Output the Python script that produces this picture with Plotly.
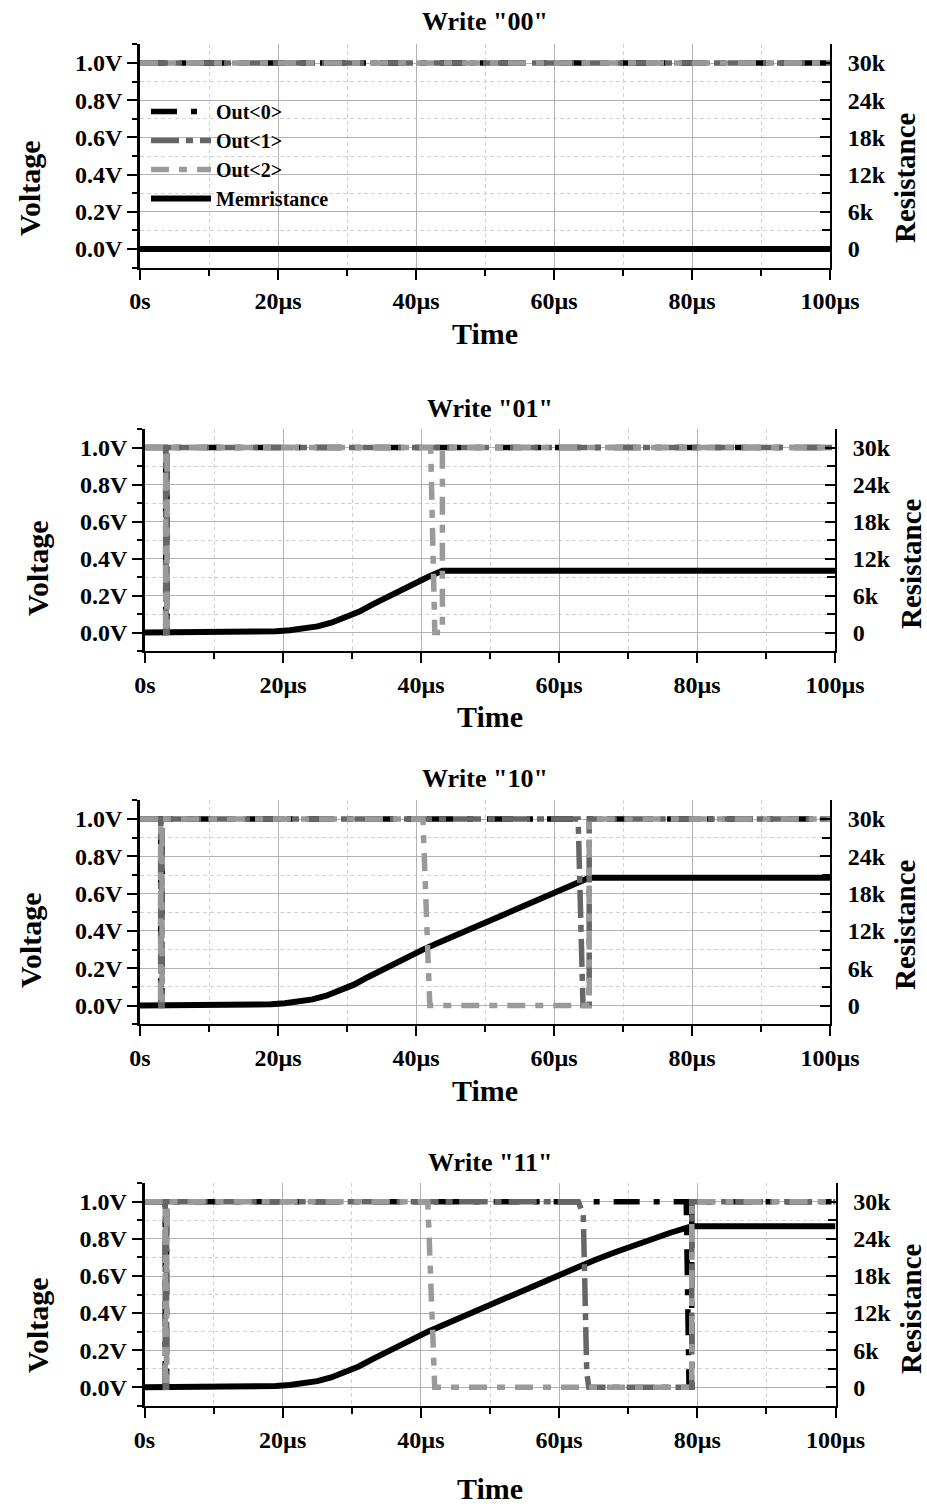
import plotly.graph_objects as go

FONT = "Liberation Serif"
W, H = 927, 1506

TITLES = ['Write "00"', 'Write "01"', 'Write "10"', 'Write "11"']
SERIES_NAMES = ["Out<0>", "Out<1>", "Out<2>", "Memristance"]
X_TICK_VALS = [0, 20, 40, 60, 80, 100]
X_TICK_TEXT = ["0s", "20µs", "40µs", "60µs", "80µs", "100µs"]
X_MINOR_VALS = [10, 30, 50, 70, 90]
R_TICK_VALS = [0, 6000, 12000, 18000, 24000, 30000]
R_TICK_TEXT = ["0", "6k", "12k", "18k", "24k", "30k"]

# ---------------- Write "00" ----------------
T_OUT0_00 = [0, 100]
V_OUT0_00 = [1, 1]
T_OUT1_00 = [0, 100]
V_OUT1_00 = [1, 1]
T_OUT2_00 = [0, 100]
V_OUT2_00 = [1, 1]
T_MEM_00 = [0, 100]
R_MEM_00 = [0, 0]

# ---------------- Write "01" ----------------
T_OUT0_01 = [0, 3.0, 3.0, 3.2, 3.2, 100]
V_OUT0_01 = [1, 1, 0, 0, 1, 1]
T_OUT1_01 = [0, 3.0, 3.0, 3.2, 3.2, 100]
V_OUT1_01 = [1, 1, 0, 0, 1, 1]
T_OUT2_01 = [0, 3.0, 3.0, 3.2, 3.2, 41.4, 42.0, 43.1, 43.1, 100]
V_OUT2_01 = [1, 1, 0, 0, 1, 1, 0, 0, 1, 1]
T_MEM_01 = [0, 12, 15, 17, 19, 21, 23, 25, 27, 29, 31, 33, 35, 37, 39, 41, 43.1, 100]
R_MEM_01 = [0, 30, 60, 120, 210, 360, 600, 990, 1590, 2400, 3360, 4560, 5700, 6840,
            7950, 9000, 10000, 10000]

# ---------------- Write "10" ----------------
T_OUT0_10 = [0, 3.0, 3.0, 3.2, 3.2, 100]
V_OUT0_10 = [1, 1, 0, 0, 1, 1]
T_OUT1_10 = [0, 3.0, 3.0, 3.2, 3.2, 63.5, 64.2, 65.1, 65.1, 100]
V_OUT1_10 = [1, 1, 0, 0, 1, 1, 0, 0, 1, 1]
T_OUT2_10 = [0, 3.0, 3.0, 3.2, 3.2, 41.0, 42.0, 65.1, 65.1, 100]
V_OUT2_10 = [1, 1, 0, 0, 1, 1, 0, 0, 1, 1]
T_MEM_10 = [0, 12, 15, 17, 19, 21, 23, 25, 27, 29, 31, 33, 35, 37, 39, 41, 43, 45, 47,
            50, 53, 56, 60, 63, 65.1, 100]
R_MEM_10 = [0, 30, 60, 120, 210, 360, 600, 990, 1590, 2400, 3360, 4560, 5700, 6840,
            7950, 9000, 9970, 10950, 11940, 13420, 14880, 16320, 18240, 19620, 20560,
            20560]

# ---------------- Write "11" ----------------
T_OUT0_11 = [0, 3.0, 3.0, 3.2, 3.2, 78.4, 78.8, 79.2, 79.2, 100]
V_OUT0_11 = [1, 1, 0, 0, 1, 1, 0, 0, 1, 1]
T_OUT1_11 = [0, 3.0, 3.0, 3.2, 3.2, 62.8, 63.5, 64.0, 64.3, 79.2, 79.2, 100]
V_OUT1_11 = [1, 1, 0, 0, 1, 1, 0.93, 0.08, 0, 0, 1, 1]
T_OUT2_11 = [0, 3.0, 3.0, 3.2, 3.2, 41.0, 42.0, 79.2, 79.2, 100]
V_OUT2_11 = [1, 1, 0, 0, 1, 1, 0, 0, 1, 1]
T_MEM_11 = [0, 12, 15, 17, 19, 21, 23, 25, 27, 29, 31, 33, 35, 37, 39, 41, 43, 45, 47,
            50, 53, 56, 60, 63, 65, 68, 70, 73, 76, 79.2, 100]
R_MEM_11 = [0, 30, 60, 120, 210, 360, 600, 990, 1590, 2400, 3360, 4560, 5700, 6840,
            7950, 9000, 9970, 10950, 11940, 13420, 14880, 16320, 18240, 19620, 20520,
            21800, 22620, 23820, 24960, 26050, 26050]

PANEL_DATA = [
    ((T_OUT0_00, V_OUT0_00), (T_OUT1_00, V_OUT1_00), (T_OUT2_00, V_OUT2_00), (T_MEM_00, R_MEM_00)),
    ((T_OUT0_01, V_OUT0_01), (T_OUT1_01, V_OUT1_01), (T_OUT2_01, V_OUT2_01), (T_MEM_01, R_MEM_01)),
    ((T_OUT0_10, V_OUT0_10), (T_OUT1_10, V_OUT1_10), (T_OUT2_10, V_OUT2_10), (T_MEM_10, R_MEM_10)),
    ((T_OUT0_11, V_OUT0_11), (T_OUT1_11, V_OUT1_11), (T_OUT2_11, V_OUT2_11), (T_MEM_11, R_MEM_11)),
]

# styles
OUT_COLORS = ["#000000", "#666666", "#9a9a9a"]
OUT_DASH = ["26px,14px,6px,14px", "28px,7px,7px,7px", "18px,10px,8px,10px"]
OUT_WIDTH = 5.5
MEM_COLOR = "#000000"
MEM_WIDTH = 6

# panel geometry in pixels: left, right, top, bottom
GEO = [
    (140.0, 830.0, 44.4, 267.6),
    (145.0, 835.0, 429.0, 651.0),
    (140.0, 830.0, 800.4, 1024.2),
    (144.5, 835.5, 1183.3, 1405.8),
]
TITLE_Y = [22, 408, 778, 1162]
TIME_Y = [333, 716, 1090, 1488]
VOLT_POS = [(29, 188), (37, 568), (30, 940), (37, 1325)]
RES_POS = [(905, 178), (911, 564), (905, 925), (911, 1309)]


def px(x):
    return x / W


def py(y):
    return 1 - y / H


def sid(prefix, n):
    return prefix if n == 1 else f"{prefix}{n}"


bold = dict(family=FONT, weight="bold", color="black")
tick_font = dict(family=FONT, size=24, weight="bold", color="black")
MAJOR_GRID = "#b2b2b2"
MINOR_GRID = "#d2d2d2"

fig = go.Figure()
layout = {}
annotations = []

for i in range(1, 5):
    left, right, top, bot = GEO[i - 1]
    xdom = [px(left), px(right)]
    ydom = [py(bot), py(top)]
    xm, xt = i, i + 4          # main x, top x
    yr, yv = i, i + 4          # resistance (base), voltage (overlay)
    (o0, o1, o2, mem) = PANEL_DATA[i - 1]
    show = (i == 1)

    # memristance on the resistance axis (drawn underneath)
    fig.add_trace(go.Scatter(
        x=mem[0], y=mem[1], mode="lines", name=SERIES_NAMES[3],
        line=dict(color=MEM_COLOR, width=MEM_WIDTH),
        xaxis=sid("x", xm), yaxis=sid("y", yr),
        showlegend=show, legendrank=4))
    for k, (t, v) in enumerate((o0, o1, o2)):
        fig.add_trace(go.Scatter(
            x=t, y=v, mode="lines", name=SERIES_NAMES[k],
            line=dict(color=OUT_COLORS[k], width=OUT_WIDTH, dash=OUT_DASH[k]),
            xaxis=sid("x", xm), yaxis=sid("y", yv),
            showlegend=show, legendrank=k + 1))

    layout[sid("xaxis", xm)] = dict(
        domain=xdom, anchor=sid("y", yr), range=[0, 100], side="bottom",
        automargin=False,
        showline=True, linewidth=2, linecolor="black", mirror=False,
        ticks="outside", ticklen=10, tickwidth=2, tickcolor="black",
        tickmode="array", tickvals=X_TICK_VALS, ticktext=X_TICK_TEXT,
        tickfont=tick_font, ticklabelstandoff=1,
        showgrid=True, gridcolor=MAJOR_GRID, gridwidth=1, zeroline=False,
        minor=dict(tickmode="array", tickvals=X_MINOR_VALS, ticks="outside", ticklen=6,
                   tickwidth=2, tickcolor="black", showgrid=True,
                   gridcolor=MINOR_GRID, griddash="4px,3px", gridwidth=1),
        fixedrange=True)
    layout[sid("xaxis", xt)] = dict(
        overlaying=sid("x", xm), anchor=sid("y", yr), range=[0, 100], side="top",
        automargin=False,
        showline=True, linewidth=2, linecolor="black",
        ticks="inside", ticklen=10, tickwidth=2, tickcolor="black",
        tickmode="array", tickvals=X_TICK_VALS, showticklabels=False,
        showgrid=False, zeroline=False,
        minor=dict(tickmode="array", tickvals=X_MINOR_VALS, ticks="inside", ticklen=6,
                   tickwidth=2, tickcolor="black", showgrid=False),
        fixedrange=True)
    layout[sid("yaxis", yr)] = dict(
        domain=ydom, anchor=sid("x", xm), side="right", range=[-3000, 33000],
        automargin=False,
        showline=True, linewidth=2, linecolor="black",
        ticks="inside", ticklen=10, tickwidth=2, tickcolor="black",
        tickmode="array", tickvals=R_TICK_VALS, ticktext=R_TICK_TEXT,
        tickfont=tick_font, ticklabelstandoff=11,
        showgrid=False, zeroline=False,
        minor=dict(dtick=3000, tick0=0, ticks="inside", ticklen=8, tickwidth=2,
                   tickcolor="black", showgrid=False),
        fixedrange=True)
    layout[sid("yaxis", yv)] = dict(
        overlaying=sid("y", yr), anchor=sid("x", xm), side="left", range=[-0.1, 1.1],
        automargin=False,
        showline=True, linewidth=2.5, linecolor="black",
        ticks="outside", ticklen=10, tickwidth=2, tickcolor="black",
        tickmode="linear", tick0=0, dtick=0.2, tickformat=".1f", ticksuffix="V",
        tickfont=tick_font, ticklabelstandoff=0,
        showgrid=True, gridcolor=MAJOR_GRID, gridwidth=1, zeroline=False,
        minor=dict(dtick=0.1, tick0=0, ticks="outside", ticklen=5, tickwidth=2,
                   tickcolor="black", showgrid=True, gridcolor=MINOR_GRID,
                   griddash="4px,3px", gridwidth=1),
        fixedrange=True)

    cx = (left + right) / 2
    annotations.append(dict(text=TITLES[i - 1], x=px(cx), y=py(TITLE_Y[i - 1]),
                            xref="paper", yref="paper", showarrow=False,
                            xanchor="center", yanchor="middle",
                            font=dict(bold, size=26)))
    annotations.append(dict(text="Time", x=px(cx), y=py(TIME_Y[i - 1]),
                            xref="paper", yref="paper", showarrow=False,
                            xanchor="center", yanchor="middle",
                            font=dict(bold, size=30)))
    annotations.append(dict(text="Voltage", x=px(VOLT_POS[i - 1][0]), y=py(VOLT_POS[i - 1][1]),
                            xref="paper", yref="paper", showarrow=False, textangle=-90,
                            xanchor="center", yanchor="middle",
                            font=dict(bold, size=30)))
    annotations.append(dict(text="Resistance", x=px(RES_POS[i - 1][0]), y=py(RES_POS[i - 1][1]),
                            xref="paper", yref="paper", showarrow=False, textangle=-90,
                            xanchor="center", yanchor="middle",
                            font=dict(bold, size=29)))

fig.update_layout(**layout)
fig.update_layout(
    template="none",
    width=W, height=H, margin=dict(l=0, r=0, t=0, b=0, pad=0),
    paper_bgcolor="white", plot_bgcolor="white",
    annotations=annotations,
    showlegend=True,
    legend=dict(x=px(146), y=py(92), xanchor="left", yanchor="top",
                bgcolor="rgba(0,0,0,0)", borderwidth=0,
                font=dict(family=FONT, size=20, weight="bold", color="black"),
                itemwidth=60, traceorder="normal", tracegroupgap=0,
                itemclick=False, itemdoubleclick=False),
)

fig.write_html("out.html")
